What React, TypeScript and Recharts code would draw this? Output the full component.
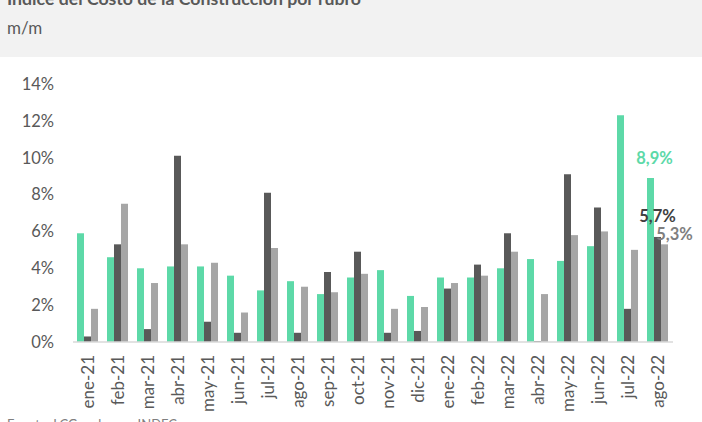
import React from 'react';
import { BarChart, Bar, XAxis, YAxis, LabelList } from 'recharts';

const months = ['ene-21','feb-21','mar-21','abr-21','may-21','jun-21','jul-21','ago-21','sep-21','oct-21','nov-21','dic-21','ene-22','feb-22','mar-22','abr-22','may-22','jun-22','jul-22','ago-22'];
const materiales = [5.9,4.6,4.0,4.1,4.1,3.6,2.8,3.3,2.6,3.5,3.9,2.5,3.5,3.5,4.0,4.5,4.4,5.2,12.3,8.9];
const manoDeObra = [0.3,5.3,0.7,10.1,1.1,0.5,8.1,0.5,3.8,4.9,0.5,0.6,2.9,4.2,5.9,0.05,9.1,7.3,1.8,5.7];
const gastosGenerales = [1.8,7.5,3.2,5.3,4.3,1.6,5.1,3.0,2.7,3.7,1.8,1.9,3.2,3.6,4.9,2.6,5.8,6.0,5.0,5.3];
const yTicks = [0, 2, 4, 6, 8, 10, 12, 14];

const data = months.map((m, i) => ({
  mes: m,
  materiales: materiales[i],
  manoDeObra: manoDeObra[i],
  gastosGenerales: gastosGenerales[i],
}));

const FONT = 'Lato, "Noto Sans", sans-serif';
const GREEN = '#5dd9a8';
const DARK = '#595959';
const LIGHT = '#a6a6a6';
const last = months.length - 1;

const fmt = (v: number) => v.toFixed(1).replace('.', ',') + '%';

const makeLabel = (color: string, dx: number, dy: number) => (props: any) => {
  const { x, y, width, index, value } = props;
  if (index !== last) return null;
  return (
    <text x={Number(x) + Number(width) / 2 + dx} y={Number(y) + dy} fill={color} textAnchor="middle"
      dominantBaseline="central" fontFamily={FONT} fontSize={16.5} fontWeight={700}>
      {fmt(Number(value))}
    </text>
  );
};

const XTick = (props: any) => {
  const { x, y, payload } = props;
  return (
    <g transform={`translate(${x},${y})`}>
      <text transform="rotate(-90)" x={-13} y={0} dy="0.35em" textAnchor="end" fill="#595959"
        fontFamily={FONT} fontSize={17}>
        {payload.value}
      </text>
    </g>
  );
};

export default function App() {
  return (
    <div style={{ position: 'absolute', left: 0, top: 0, width: 702, height: 422, background: '#fff', overflow: 'hidden' }}>
      <div style={{ position: 'absolute', left: 0, top: 0, width: 702, height: 57, background: '#f2f2f2' }} />
      <div style={{ position: 'absolute', left: 7, top: -10, fontFamily: FONT, fontSize: 17.7, lineHeight: '17.7px', fontWeight: 700, color: '#595959', whiteSpace: 'nowrap' }}>
        Índice del Costo de la Construcción por rubro
      </div>
      <div style={{ position: 'absolute', left: 7, top: 19, fontFamily: FONT, fontSize: 17, lineHeight: '17px', color: '#595959', whiteSpace: 'nowrap' }}>
        m/m
      </div>
      <div style={{ position: 'absolute', left: 0, top: 0 }}>
        <BarChart width={702} height={422} data={data} margin={{ top: 84, right: 29, bottom: 0, left: 0 }}
          barCategoryGap={4} barGap={0}>
          <XAxis dataKey="mes" interval={0} height={80} tickLine={false} tickSize={0} tickMargin={0}
            axisLine={{ stroke: '#d9d9d9', strokeWidth: 1.5 }} tick={<XTick />} />
          <YAxis width={73} domain={[0, 14]} ticks={yTicks} interval={0} axisLine={false} tickLine={false}
            tickSize={0} tickMargin={19} tickFormatter={(v: number) => `${v}%`}
            tick={{ fill: '#595959', fontFamily: FONT, fontSize: 16.5 }} />
          <Bar dataKey="materiales" name="Materiales" fill={GREEN} isAnimationActive={false}>
            <LabelList dataKey="materiales" content={makeLabel('#5dd9a8', 4, -20)} />
          </Bar>
          <Bar dataKey="manoDeObra" name="Mano de obra" fill={DARK} isAnimationActive={false}>
            <LabelList dataKey="manoDeObra" content={makeLabel('#404040', 0, -21)} />
          </Bar>
          <Bar dataKey="gastosGenerales" name="Gastos generales" fill={LIGHT} isAnimationActive={false}>
            <LabelList dataKey="gastosGenerales" content={makeLabel('#7f7f7f', 10, -10.5)} />
          </Bar>
        </BarChart>
      </div>
      <div style={{ position: 'absolute', left: 7, top: 418, fontFamily: FONT, fontSize: 13, lineHeight: '13px', color: '#7f7f7f', whiteSpace: 'nowrap' }}>
        Fuente: LCG en base a INDEC
      </div>
    </div>
  );
}
